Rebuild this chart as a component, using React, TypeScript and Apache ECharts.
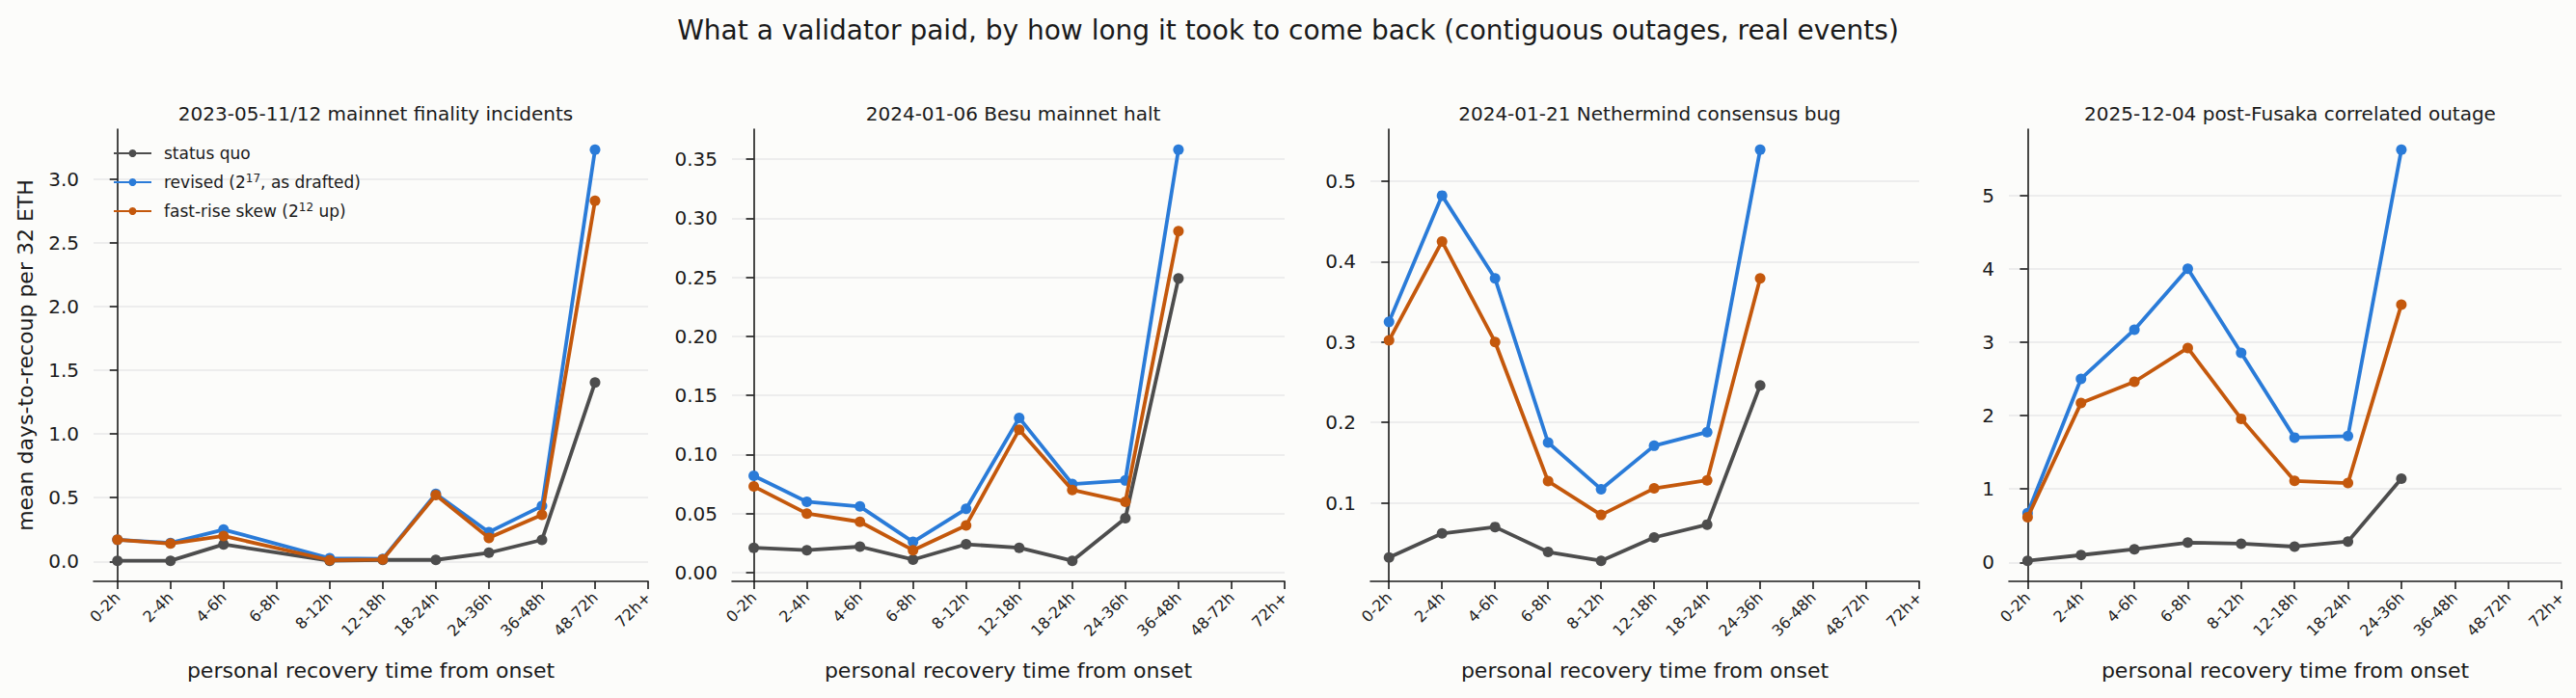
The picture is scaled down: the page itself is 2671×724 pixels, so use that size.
import React, { useEffect, useRef } from "react";
import * as echarts from "echarts";

const CATEGORIES = ["0-2h", "2-4h", "4-6h", "6-8h", "8-12h", "12-18h", "18-24h", "24-36h", "36-48h", "48-72h", "72h+"];

const SERIES_NAMES = ["status quo", "revised (2^17, as drafted)", "fast-rise skew (2^12 up)"];
const SERIES_COLORS = ["#4d4d4d", "#2a7bd8", "#c4580c"];

const PANEL_TITLES = [
  "2023-05-11/12 mainnet finality incidents",
  "2024-01-06 Besu mainnet halt",
  "2024-01-21 Nethermind consensus bug",
  "2025-12-04 post-Fusaka correlated outage",
];

// 2023-05-11/12
const FINALITY_STATUS_QUO = [0.005, 0.005, 0.134, null, 0.005, 0.012, 0.012, 0.068, 0.169, 1.403, null];
const FINALITY_REVISED = [0.17, 0.145, 0.25, null, 0.025, 0.02, 0.53, 0.23, 0.435, 3.23, null];
const FINALITY_FAST_RISE = [0.17, 0.14, 0.2, null, 0.01, 0.015, 0.52, 0.185, 0.365, 2.83, null];

// 2024-01-06 Besu
const BESU_STATUS_QUO = [0.021, 0.019, 0.022, 0.011, 0.024, 0.021, 0.01, 0.046, 0.249, null, null];
const BESU_REVISED = [0.082, 0.06, 0.056, 0.026, 0.054, 0.131, 0.075, 0.078, 0.358, null, null];
const BESU_FAST_RISE = [0.073, 0.05, 0.043, 0.019, 0.04, 0.121, 0.07, 0.06, 0.289, null, null];

// 2024-01-21 Nethermind
const NETHERMIND_STATUS_QUO = [0.032, 0.062, 0.07, 0.039, 0.028, 0.057, 0.073, 0.246, null, null, null];
const NETHERMIND_REVISED = [0.325, 0.482, 0.379, 0.175, 0.117, 0.171, 0.188, 0.539, null, null, null];
const NETHERMIND_FAST_RISE = [0.302, 0.425, 0.3, 0.127, 0.085, 0.118, 0.128, 0.379, null, null, null];

// 2025-12-04 post-Fusaka
const FUSAKA_STATUS_QUO = [0.022, 0.1, 0.18, 0.27, 0.255, 0.215, 0.285, 1.14, null, null, null];
const FUSAKA_REVISED = [0.67, 2.5, 3.17, 4.0, 2.855, 1.7, 1.72, 5.62, null, null, null];
const FUSAKA_FAST_RISE = [0.614, 2.17, 2.46, 2.92, 1.956, 1.11, 1.08, 3.51, null, null, null];

const Y_TICKS = [
  [0, 0.5, 1.0, 1.5, 2.0, 2.5, 3.0],
  [0, 0.05, 0.1, 0.15, 0.2, 0.25, 0.3, 0.35],
  [0.1, 0.2, 0.3, 0.4, 0.5],
  [0, 1, 2, 3, 4, 5],
];
const Y_DECIMALS = [1, 2, 1, 0];

const PANEL_DATA = [
  [FINALITY_STATUS_QUO, FINALITY_REVISED, FINALITY_FAST_RISE],
  [BESU_STATUS_QUO, BESU_REVISED, BESU_FAST_RISE],
  [NETHERMIND_STATUS_QUO, NETHERMIND_REVISED, NETHERMIND_FAST_RISE],
  [FUSAKA_STATUS_QUO, FUSAKA_REVISED, FUSAKA_FAST_RISE],
];

// layout (px)
const GRID_LEFT = [97, 759, 1421, 2083];
const GRID_WIDTH = [575, 573, 569, 573];
const GRID_TOP = 134;
const GRID_HEIGHT = 469;
const X_MIN = [-0.45, -0.41, -0.35, -0.35];

const FONT = "DejaVu Sans";
const INK = "#1a1a1a";

const legendLabel = (name: string) => name.replace(/\^(\d+)/g, (_m, d) => `{sup|${d}}`);

const App: React.FC = () => {
  const chartRef = useRef<HTMLDivElement>(null);

  useEffect(() => {
    if (!chartRef.current) return;
    document.body.style.margin = "0";
    const chart = echarts.init(chartRef.current, null, { renderer: "svg" });

    const xTicks = CATEGORIES.map((_, i) => i);

    const grids = GRID_LEFT.map((left, i) => ({
      left,
      top: GRID_TOP,
      width: GRID_WIDTH[i],
      height: GRID_HEIGHT,
      containLabel: false,
    }));

    const xAxes = GRID_LEFT.map((_, i) => ({
      type: "value",
      gridIndex: i,
      min: X_MIN[i],
      max: 10,
      axisLine: { show: true, onZero: false, lineStyle: { color: INK, width: 1.6 } },
      axisTick: { show: true, customValues: xTicks, length: 8, lineStyle: { color: INK, width: 1.6 } },
      axisLabel: {
        customValues: xTicks,
        rotate: 45,
        margin: 14,
        fontSize: 16,
        fontFamily: FONT,
        color: INK,
        formatter: (v: number) => CATEGORIES[Math.round(v)] ?? "",
      },
      splitLine: { show: false },
      name: "personal recovery time from onset",
      nameLocation: "middle",
      nameGap: 81,
      nameTextStyle: { fontSize: 22, fontFamily: FONT, color: INK },
    }));

    const yAxes = PANEL_DATA.map((series, i) => {
      const vals = series.flat().filter((v) => v != null) as number[];
      const lo = Math.min(...vals);
      const hi = Math.max(...vals);
      const pad = (hi - lo) * 0.05;
      return {
        type: "value",
        gridIndex: i,
        min: lo - pad,
        max: hi + pad,
        axisLine: { show: true, lineStyle: { color: INK, width: 1.6 } },
        axisTick: { show: true, customValues: Y_TICKS[i], length: 8, lineStyle: { color: INK, width: 1.6 } },
        axisLabel: {
          customValues: Y_TICKS[i],
          margin: 15,
          fontSize: 20,
          fontFamily: FONT,
          color: INK,
          formatter: (v: number) => v.toFixed(Y_DECIMALS[i]),
        },
        splitLine: { show: true, customValues: Y_TICKS[i], lineStyle: { color: "#e8e8e8", width: 1.5 } },
        ...(i === 0
          ? {
              name: "mean days-to-recoup per 32 ETH",
              nameLocation: "middle",
              nameRotate: 90,
              nameGap: 60,
              nameTextStyle: { fontSize: 22, fontFamily: FONT, color: INK },
            }
          : {}),
      };
    });

    const series: any[] = [];
    PANEL_DATA.forEach((panel, p) => {
      panel.forEach((values, s) => {
        series.push({
          type: "line",
          name: SERIES_NAMES[s],
          xAxisIndex: p,
          yAxisIndex: p,
          data: values
            .map((v, i) => (v == null ? null : [i, v]))
            .filter((d) => d != null),
          symbol: "circle",
          symbolSize: 11,
          showSymbol: true,
          color: SERIES_COLORS[s],
          lineStyle: { width: 3.8, color: SERIES_COLORS[s] },
          itemStyle: { color: SERIES_COLORS[s] },
          z: 2 + s,
          silent: true,
          emphasis: { disabled: true },
        });
      });
    });

    const titles: any[] = [
      {
        text: "What a validator paid, by how long it took to come back (contiguous outages, real events)",
        left: "center",
        top: 12,
        textStyle: { fontSize: 28, fontWeight: "normal", fontFamily: FONT, color: INK },
      },
      ...PANEL_TITLES.map((t, i) => ({
        text: t,
        left: GRID_LEFT[i] + GRID_WIDTH[i] / 2,
        textAlign: "center",
        top: 103,
        textStyle: { fontSize: 20, fontWeight: "normal", fontFamily: FONT, color: INK },
      })),
    ];

    const option: any = {
      animation: false,
      backgroundColor: "#fcfcfa",
      title: titles,
      grid: grids,
      xAxis: xAxes,
      yAxis: yAxes,
      legend: {
        orient: "vertical",
        left: 112,
        top: 144,
        itemWidth: 39,
        itemHeight: 10,
        itemGap: 10,
        selectedMode: false,
        data: SERIES_NAMES,
        formatter: legendLabel,
        textStyle: {
          fontSize: 17,
          fontFamily: FONT,
          color: INK,
          lineHeight: 20,
          padding: [0, 0, 0, 8],
          rich: {
            sup: { fontSize: 12, lineHeight: 12, verticalAlign: "top", fontFamily: FONT, color: INK },
          },
        },
      },
      series,
    };

    chart.setOption(option);

    return () => {
      chart.dispose();
    };
  }, []);

  return <div ref={chartRef} style={{ width: "2671px", height: "724px" }} />;
};

export default App;
